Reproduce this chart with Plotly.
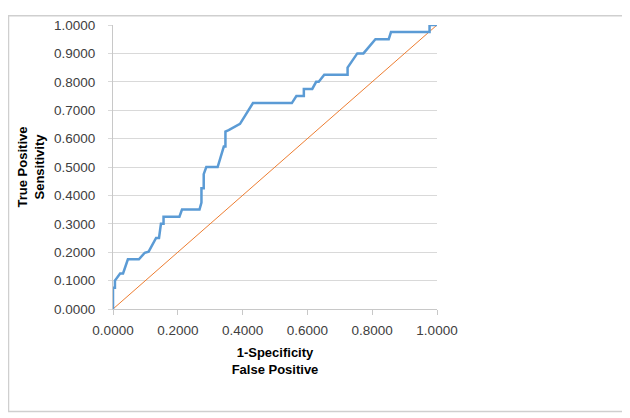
import plotly.graph_objects as go

# ROC curve points
fpr = [0, 0, 0.006, 0.006, 0.022, 0.031, 0.046, 0.080, 0.098, 0.110,
       0.133, 0.142, 0.148, 0.156, 0.156, 0.205, 0.213, 0.267, 0.273, 0.273,
       0.280, 0.280, 0.288, 0.323, 0.342, 0.347, 0.347, 0.357, 0.392, 0.432,
       0.552, 0.566, 0.589, 0.589, 0.615, 0.627, 0.635, 0.652, 0.724, 0.724,
       0.754, 0.773, 0.810, 0.851, 0.858, 0.977, 0.977, 1.0]
tpr = [0, 0.075, 0.075, 0.100, 0.125, 0.125, 0.175, 0.175, 0.198, 0.202,
       0.250, 0.250, 0.300, 0.300, 0.325, 0.325, 0.350, 0.350, 0.375, 0.425,
       0.425, 0.475, 0.500, 0.500, 0.572, 0.572, 0.625, 0.630, 0.652, 0.725,
       0.725, 0.750, 0.750, 0.775, 0.775, 0.800, 0.800, 0.825, 0.825, 0.850,
       0.900, 0.900, 0.950, 0.950, 0.975, 0.975, 1.0, 1.0]

# reference diagonal
diag_x = [0, 1]
diag_y = [0, 1]

tick_vals = [0, 0.2, 0.4, 0.6, 0.8, 1.0]
y_tick_vals = [0, 0.1, 0.2, 0.3, 0.4, 0.5, 0.6, 0.7, 0.8, 0.9, 1.0]

# the page body has an 8px margin, so the figure is a bit smaller than the window
W, H = 622, 410
ml, mr, mt, mb = 105, 193, 10, 109

fig = go.Figure()
fig.add_trace(go.Scatter(x=diag_x, y=diag_y, mode="lines",
                         line=dict(color="#ED7D31", width=1), hoverinfo="skip"))
fig.add_trace(go.Scatter(x=fpr, y=tpr, mode="lines",
                         line=dict(color="#5B9BD5", width=2.5)))

# chart-area frame, given in pixels and converted to paper coords
pw, ph = W - ml - mr, H - mt - mb
def px(x):
    return (x - ml) / pw
def py(y):
    return (H - mb - y) / ph

fig.add_shape(type="rect", xref="paper", yref="paper",
              x0=px(0.5), x1=px(618), y0=py(406), y1=py(0.5),
              line=dict(color="#CFCFCF", width=1.5), layer="below")

tick_font = dict(family="Liberation Sans, Arial", size=13.5, color="#404040")
title_font = dict(family="Liberation Sans, Arial", size=13, color="#000000", weight="bold")

fig.update_layout(
    width=W, height=H,
    margin=dict(l=ml, r=mr, t=mt, b=mb),
    paper_bgcolor="white", plot_bgcolor="white",
    showlegend=False,
    xaxis=dict(
        range=[0, 1], tickvals=tick_vals,
        ticktext=[f"{v:.4f}" for v in tick_vals],
        showgrid=False, zeroline=False,
        showline=True, linecolor="#C8C8C8", linewidth=1,
        ticks="outside", ticklen=5, tickcolor="#C8C8C8",
        tickfont=tick_font, ticklabelstandoff=4,
        title=dict(text="1-Specificity<br>False Positive", font=title_font, standoff=10),
    ),
    yaxis=dict(
        range=[0, 1], tickvals=y_tick_vals,
        ticktext=[f"{v:.4f}" for v in y_tick_vals],
        showgrid=True, gridcolor="#D9D9D9", gridwidth=1, zeroline=False,
        showline=True, linecolor="#C8C8C8", linewidth=1,
        ticks="outside", ticklen=4, tickcolor="#D9D9D9",
        tickfont=tick_font, ticklabelstandoff=10,
        title=dict(text="True Positive<br>Sensitivity", font=title_font, standoff=6),
    ),
)

fig.write_html("out.html")
